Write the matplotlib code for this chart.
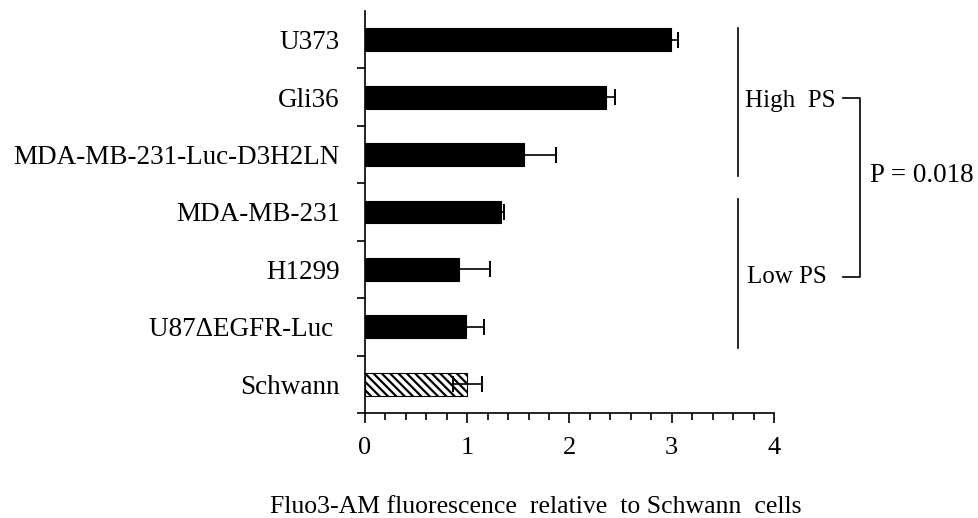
import matplotlib
matplotlib.use('Agg')
import matplotlib.pyplot as plt
import numpy as np

# cell lines, top to bottom as in the figure
cells = ['U373', 'Gli36', 'MDA-MB-231-Luc-D3H2LN', 'MDA-MB-231', 'H1299', 'U87\u0394EGFR-Luc ', 'Schwann']
fluo = [2.99, 2.36, 1.56, 1.33, 0.92, 0.99, 1.00]
err = [0.07, 0.09, 0.31, 0.03, 0.30, 0.17, 0.14]

plt.rcParams['font.family'] = ['Liberation Serif', 'DejaVu Serif']
plt.rcParams['hatch.linewidth'] = 1.6

fig = plt.figure(figsize=(9.79, 5.18), dpi=100)
ax = fig.add_axes([0.3728, 0.2027, 0.4178, 0.7761])

ypos = np.arange(len(cells))[::-1]  # U373 at top
colors = ['black'] * (len(cells) - 1) + ['white']
hatches = [''] * (len(cells) - 1) + ['\\\\\\\\']

for y, v, c, h in zip(ypos, fluo, colors, hatches):
    ax.barh(y, v, height=0.4, color=c, edgecolor='black', hatch=h, linewidth=0.8, zorder=2)
ax.errorbar(fluo, ypos, xerr=err, fmt='none', ecolor='black', elinewidth=1.2, capsize=5.5, capthick=1.4, zorder=3)

ax.set_xlim(0, 4)
ax.set_ylim(-0.5, 6.5)
ax.set_xticks([0, 1, 2, 3, 4])
ax.set_xticks(np.arange(0, 4.01, 0.2), minor=True)
ax.tick_params(axis='x', which='major', length=7, width=1.2, labelsize=19, pad=10)
ax.tick_params(axis='x', which='minor', length=5, width=1.2)

ax.set_yticks(ypos)
ax.set_yticklabels(cells, fontsize=19.5)
ax.set_yticks(np.arange(-0.5, 6.0, 1.0), minor=True)
ax.tick_params(axis='y', which='major', length=0, pad=18)
ax.tick_params(axis='y', which='minor', length=6, width=1.2)

for s in ['top', 'right']:
    ax.spines[s].set_visible(False)
for s in ['left', 'bottom']:
    ax.spines[s].set_linewidth(1.2)

ax.set_xlabel('Fluo3-AM fluorescence  relative  to Schwann  cells', fontsize=18.5, va='center')
ax.xaxis.set_label_coords(0.418, -0.234)

# group lines and bracket on the right
ax.plot([3.65, 3.65], [6.21, 3.63], color='black', lw=1.2, clip_on=False)
ax.plot([3.65, 3.65], [3.23, 0.63], color='black', lw=1.2, clip_on=False)
ax.text(3.72, 4.94, 'High  PS', fontsize=18, va='center', ha='left')
ax.text(3.74, 1.86, 'Low PS', fontsize=18, va='center', ha='left')
ax.plot([4.67, 4.84, 4.84, 4.67], [4.99, 4.99, 1.86, 1.86], color='black', lw=1.2, clip_on=False)
ax.text(4.94, 3.63, 'P = 0.018', fontsize=19.5, va='center', ha='left')

plt.savefig('out.png', dpi=100)
